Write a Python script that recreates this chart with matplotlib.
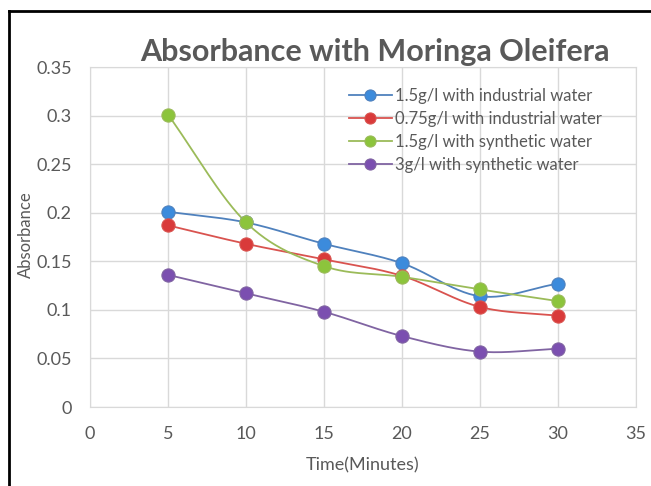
import numpy as np
import matplotlib
matplotlib.use('Agg')
from matplotlib import pyplot as plt
from matplotlib.lines import Line2D

time_min = [5, 10, 15, 20, 25, 30]
ind_15 = [0.201, 0.190, 0.168, 0.148, 0.114, 0.127]
ind_075 = [0.187, 0.168, 0.152, 0.135, 0.103, 0.094]
syn_15 = [0.301, 0.190, 0.145, 0.134, 0.121, 0.109]
syn_3 = [0.136, 0.117, 0.098, 0.073, 0.057, 0.060]

labels = ['1.5g/l with industrial water', '0.75g/l with industrial water',
          '1.5g/l with synthetic water', '3g/l with synthetic water']
line_colors = ['#4F81BD', '#D9534F', '#9BBB59', '#8064A2']
marker_colors = ['#3C8BDC', '#D93A3A', '#8CC43C', '#7B4FB0']

GREY = '#595959'


def smooth(xs, ys, n=30):
    # excel style smoothed line (catmull-rom through the points)
    xs = np.asarray(xs, float)
    ys = np.asarray(ys, float)
    px = np.concatenate([[2 * xs[0] - xs[1]], xs, [2 * xs[-1] - xs[-2]]])
    py = np.concatenate([[2 * ys[0] - ys[1]], ys, [2 * ys[-1] - ys[-2]]])
    out_x, out_y = [], []
    t = np.linspace(0, 1, n)
    for i in range(1, len(px) - 2):
        for arr, out in ((px, out_x), (py, out_y)):
            p0, p1, p2, p3 = arr[i - 1], arr[i], arr[i + 1], arr[i + 2]
            c1 = p1 + (p2 - p0) / 6
            c2 = p2 - (p3 - p1) / 6
            out.extend((1 - t) ** 3 * p1 + 3 * (1 - t) ** 2 * t * c1
                       + 3 * (1 - t) * t ** 2 * c2 + t ** 3 * p2)
    return out_x, out_y


plt.rcParams['font.family'] = ['Lato', 'DejaVu Sans']

fig = plt.figure(figsize=(6.51, 4.86), dpi=100)
ax = fig.add_axes([90 / 651, 1 - 407 / 486, 546 / 651, 340 / 486])

series = [ind_15, ind_075, syn_15, syn_3]
handles = []
for ys, lc, mc, lab in zip(series, line_colors, marker_colors, labels):
    sx, sy = smooth(time_min, ys)
    ax.plot(sx, sy, color=lc, lw=1.3, zorder=3)
    ax.plot(time_min, ys, 'o', color=mc, ms=9.5, mec=lc, mew=0.8, zorder=4)
    handles.append(Line2D([], [], color=lc, lw=1.3, marker='o', ms=8,
                          mfc=mc, mec=lc, mew=0.8))

ax.set_xlim(0, 35)
ax.set_ylim(0, 0.35)
ax.set_xticks(range(0, 36, 5))
ax.set_yticks(np.arange(0, 0.351, 0.05))
ax.set_yticklabels(['0', '0.05', '0.1', '0.15', '0.2', '0.25', '0.3', '0.35'])
ax.grid(True, color='#D9D9D9', lw=1)
ax.set_axisbelow(True)
for sp in ax.spines.values():
    sp.set_color('#D9D9D9')
ax.tick_params(length=0, colors=GREY, labelsize=13)
ax.tick_params(axis='x', pad=14)
ax.tick_params(axis='y', pad=13)

ax.set_xlabel('Time(Minutes)', color=GREY, fontsize=13, va='center')
ax.xaxis.set_label_coords(0.5, (407 - 465) / 340)
ax.set_ylabel('Absorbance', color=GREY, fontsize=12, va='center')
ax.yaxis.set_label_coords((26 - 90) / 546, (407 - 235) / 340)

fig.text(375 / 651, 1 - 61 / 486, 'Absorbance with Moringa Oleifera',
         ha='center', va='baseline', fontsize=22, fontweight='bold', color=GREY)

leg = ax.legend(handles, labels, loc='upper left',
                bbox_to_anchor=((342 - 90) / 546, (407 - 81) / 340),
                frameon=False, fontsize=12, labelcolor=GREY,
                handlelength=2.6, handletextpad=0.2, labelspacing=0.42,
                borderaxespad=0)

# black frame along top and left edge
fig.add_artist(Line2D([9 / 651, 1.0], [1 - 11 / 486, 1 - 11 / 486],
                      color='black', lw=2, transform=fig.transFigure))
fig.add_artist(Line2D([9 / 651, 9 / 651], [0.0, 1 - 11 / 486],
                      color='black', lw=2, transform=fig.transFigure))

fig.savefig('out.png', dpi=100)
